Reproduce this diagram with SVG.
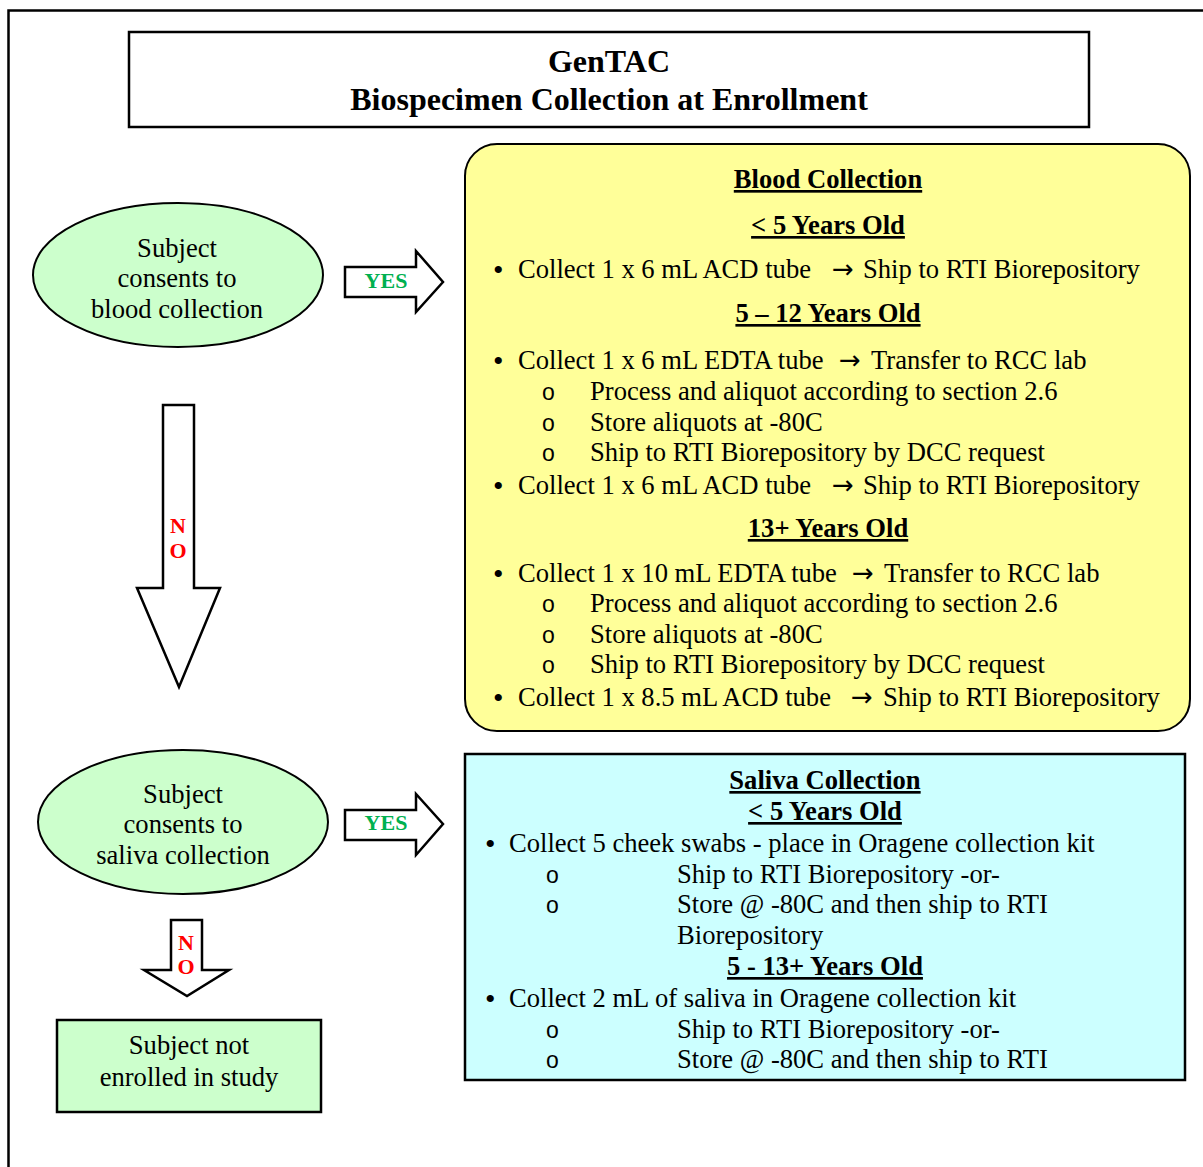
<svg xmlns="http://www.w3.org/2000/svg" width="1203" height="1167" viewBox="0 0 1203 1167">
<style>
text{font-family:"Liberation Serif","Times New Roman",serif;fill:#000}
.b{font-size:26.6px}
.h{font-size:26.6px;font-weight:bold;text-decoration:underline;text-anchor:middle}
.c{text-anchor:middle}
.bu{font-size:30px}
.o{font-family:"Liberation Sans",Arial,sans-serif;font-size:23px}
.a{font-family:"DejaVu Sans",sans-serif;font-size:26px;text-anchor:middle}
.ln{stroke:#000;stroke-width:2.5;fill:none}
.arr{fill:#fff;stroke:#000;stroke-width:2.5;stroke-linejoin:miter}
.yes{font-size:22px;font-weight:bold;fill:#00b050;text-anchor:middle}
.no{font-size:22px;font-weight:bold;fill:#ff0000;text-anchor:middle}
</style>
<rect x="0" y="0" width="1203" height="1167" fill="#fff"/>
<path d="M8.5,1167 V10.5 H1203" class="ln"/>
<g id="title">
<rect x="129" y="32" width="960" height="95" fill="#fff" stroke="#000" stroke-width="2.5"/>
<text x="609" y="72" class="c" font-size="32" font-weight="bold">GenTAC</text>
<text x="609" y="110" class="c" font-size="32" font-weight="bold">Biospecimen Collection at Enrollment</text>
</g>
<g id="blood-consent">
<ellipse cx="178" cy="275" rx="145" ry="72" fill="#ccffcc" stroke="#000" stroke-width="2"/>
<text x="177" y="257" class="b c">Subject</text>
<text x="177" y="287" class="b c">consents to</text>
<text x="177" y="318" class="b c">blood collection</text>
</g>
<g id="saliva-consent">
<ellipse cx="183" cy="822" rx="145" ry="72" fill="#ccffcc" stroke="#000" stroke-width="2"/>
<text x="183" y="803" class="b c">Subject</text>
<text x="183" y="833" class="b c">consents to</text>
<text x="183" y="864" class="b c">saliva collection</text>
</g>
<g id="not-enrolled">
<rect x="57" y="1020" width="264" height="92" fill="#ccffcc" stroke="#000" stroke-width="2.5"/>
<text x="189" y="1054" class="b c">Subject not</text>
<text x="189" y="1086" class="b c">enrolled in study</text>
</g>
<g id="connectors">
<path d="M345,267 H416 V251 L443,282 L416,312 V297 H345 Z" class="arr"/>
<text x="386" y="288" class="yes">YES</text>
<path d="M345,810 H416 V794 L443,824 L416,855 V840 H345 Z" class="arr"/>
<text x="386" y="830" class="yes">YES</text>
<path d="M163,405 H194 V588 H220 L179,687 L137,588 H163 Z" class="arr"/>
<text x="178" y="533" class="no">N</text>
<text x="178" y="558" class="no">O</text>
<path d="M171,920 H202 V970 H229 L187,996 L144,970 H171 Z" class="arr"/>
<text x="186" y="950" class="no">N</text>
<text x="186" y="974" class="no">O</text>
</g>
<g id="blood-collection">
<rect x="465" y="144" width="725" height="587" rx="32" fill="#ffff99" stroke="#000" stroke-width="2"/>
<text x="828" y="188" class="h">Blood Collection</text>
<text x="828" y="234" class="h">&lt; 5 Years Old</text>
<text x="493" y="280" class="bu">•</text>
<text x="518" y="278" class="b">Collect 1 x 6 mL ACD tube</text>
<text x="843" y="278" class="a">→</text>
<text x="863" y="278" class="b">Ship to RTI Biorepository</text>
<text x="828" y="322" class="h">5 – 12 Years Old</text>
<text x="493" y="371" class="bu">•</text>
<text x="518" y="369" class="b">Collect 1 x 6 mL EDTA tube</text>
<text x="850" y="369" class="a">→</text>
<text x="871" y="369" class="b">Transfer to RCC lab</text>
<text x="542" y="400" class="o">o</text>
<text x="590" y="400" class="b">Process and aliquot according to section 2.6</text>
<text x="542" y="431" class="o">o</text>
<text x="590" y="431" class="b">Store aliquots at -80C</text>
<text x="542" y="461" class="o">o</text>
<text x="590" y="461" class="b">Ship to RTI Biorepository by DCC request</text>
<text x="493" y="496" class="bu">•</text>
<text x="518" y="494" class="b">Collect 1 x 6 mL ACD tube</text>
<text x="843" y="494" class="a">→</text>
<text x="863" y="494" class="b">Ship to RTI Biorepository</text>
<text x="828" y="537" class="h">13+ Years Old</text>
<text x="493" y="584" class="bu">•</text>
<text x="518" y="582" class="b">Collect 1 x 10 mL EDTA tube</text>
<text x="863" y="582" class="a">→</text>
<text x="884" y="582" class="b">Transfer to RCC lab</text>
<text x="542" y="612" class="o">o</text>
<text x="590" y="612" class="b">Process and aliquot according to section 2.6</text>
<text x="542" y="643" class="o">o</text>
<text x="590" y="643" class="b">Store aliquots at -80C</text>
<text x="542" y="673" class="o">o</text>
<text x="590" y="673" class="b">Ship to RTI Biorepository by DCC request</text>
<text x="493" y="708" class="bu">•</text>
<text x="518" y="706" class="b">Collect 1 x 8.5 mL ACD tube</text>
<text x="862" y="706" class="a">→</text>
<text x="883" y="706" class="b">Ship to RTI Biorepository</text>
</g>
<g id="saliva-collection">
<rect x="465" y="754" width="720" height="326" fill="#ccffff" stroke="#000" stroke-width="2.5"/>
<text x="825" y="789" class="h">Saliva Collection</text>
<text x="825" y="820" class="h">&lt; 5 Years Old</text>
<text x="485" y="854" class="bu">•</text>
<text x="509" y="852" class="b">Collect 5 cheek swabs - place in Oragene collection kit</text>
<text x="546" y="883" class="o">o</text>
<text x="677" y="883" class="b">Ship to RTI Biorepository -or-</text>
<text x="546" y="913" class="o">o</text>
<text x="677" y="913" class="b">Store @ -80C and then ship to RTI</text>
<text x="677" y="944" class="b">Biorepository</text>
<text x="825" y="975" class="h">5 - 13+ Years Old</text>
<text x="485" y="1009" class="bu">•</text>
<text x="509" y="1007" class="b">Collect 2 mL of saliva in Oragene collection kit</text>
<text x="546" y="1038" class="o">o</text>
<text x="677" y="1038" class="b">Ship to RTI Biorepository -or-</text>
<text x="546" y="1068" class="o">o</text>
<text x="677" y="1068" class="b">Store @ -80C and then ship to RTI</text>
</g>
</svg>
